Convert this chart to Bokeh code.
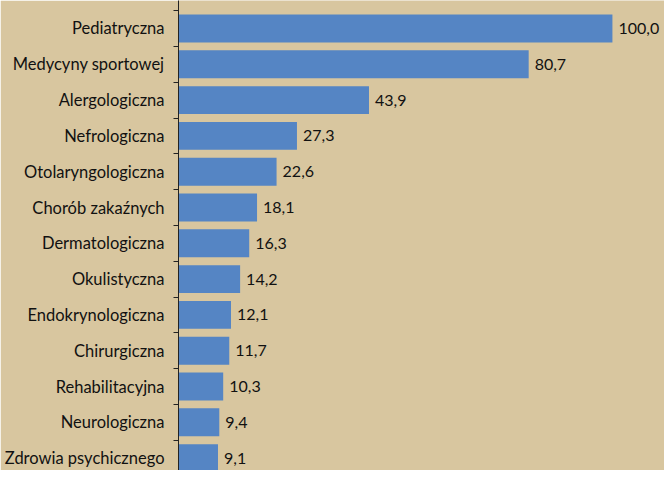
from bokeh.plotting import figure
from bokeh.models import ColumnDataSource, Range1d, FixedTicker, LinearAxis
from bokeh.core.properties import value
from bokeh.embed import file_html
from bokeh.resources import INLINE

categories = ["Pediatryczna", "Medycyny sportowej", "Alergologiczna", "Nefrologiczna",
              "Otolaryngologiczna", "Chorób zakaźnych", "Dermatologiczna", "Okulistyczna",
              "Endokrynologiczna", "Chirurgiczna", "Rehabilitacyjna", "Neurologiczna",
              "Zdrowia psychicznego"]
values = [100.0, 80.7, 43.9, 27.3, 22.6, 18.1, 16.3, 14.2, 12.1, 11.7, 10.3, 9.4, 9.1]

BG = "#D8C69F"
BAR = "#5585C4"
FONT = "Lato"

idx = list(range(len(categories)))
labels = [f"{v:.1f}".replace(".", ",") for v in values]
src = ColumnDataSource(dict(y=idx, v=values, lab=labels))

p = figure(width=664, height=470, output_backend="svg", toolbar_location=None,
           x_range=Range1d(0, 112.0), y_range=Range1d(12.346, -0.782),
           min_border_left=178, min_border_right=0, min_border_top=0, min_border_bottom=0,
           y_axis_location=None, x_axis_location=None)
p.background_fill_color = BG
p.border_fill_color = BG
p.outline_line_color = None
p.grid.visible = False

p.hbar(y="y", left=0, right="v", height=0.78, source=src, fill_color=BAR, line_color=None)
p.text(x="v", y="y", text="lab", source=src, x_offset=6, text_baseline="middle",
       text_align="left", text_font=value(FONT), text_font_size="16px", text_color="#111111")

ax = LinearAxis()
ax.ticker = FixedTicker(ticks=idx, minor_ticks=[i - 0.5 for i in range(len(categories) + 1)])
ax.major_label_overrides = {i: c for i, c in enumerate(categories)}
ax.major_tick_out = 0
ax.major_tick_in = 0
ax.minor_tick_out = 5
ax.minor_tick_in = 0
ax.minor_tick_line_color = "#222222"
ax.axis_line_color = "#222222"
ax.major_label_standoff = 9
ax.major_label_text_font = FONT
ax.major_label_text_font_size = "16.5px"
ax.major_label_text_color = "#111111"
p.add_layout(ax, "left")

open("out.html", "w").write(file_html(p, INLINE))
